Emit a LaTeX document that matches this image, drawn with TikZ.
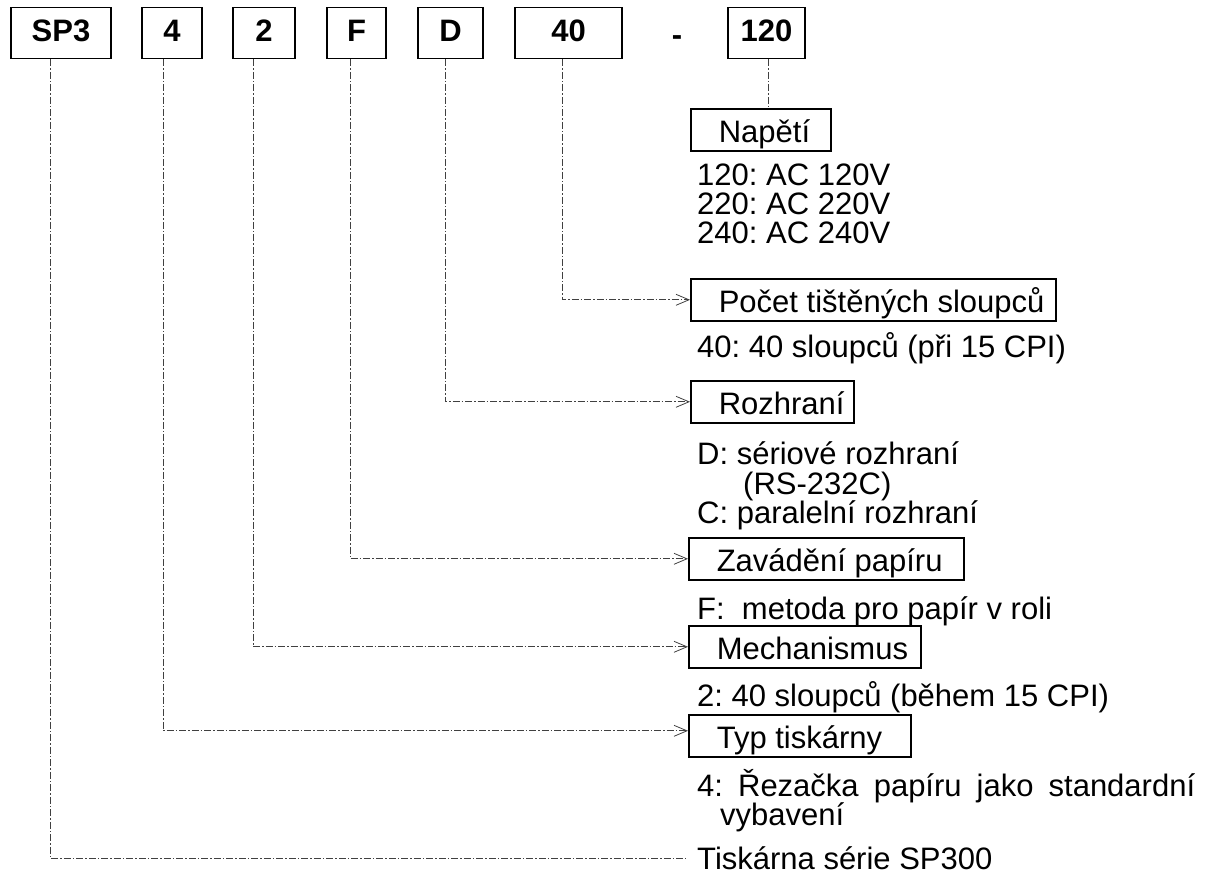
\documentclass[tikz,border=0pt]{standalone}
\usepackage{fontspec}
\setmainfont{Liberation Sans}
\usetikzlibrary{arrows.meta,calc}
\newcommand\lbtext[2]{\rule[-7pt]{0pt}{40pt}\makebox[#1][l]{\hspace*{28pt}#2}}
\newcommand\tbtext[1]{\rule[-8pt]{0pt}{33pt}#1}
\frenchspacing
\begin{document}
\begin{tikzpicture}[x=1pt,y=-1pt,
  topbox/.style={draw, line width=1.8pt, minimum height=51pt, inner sep=0pt, font=\fontsize{31}{36}\selectfont\bfseries},
  lbox/.style={draw, line width=1.6pt, minimum height=42pt, inner sep=0pt, anchor=north west, font=\fontsize{31}{36}\selectfont},
  desc/.style={anchor=base west, inner sep=0pt, font=\fontsize{31}{36}\selectfont},
  conn/.style={line width=0.8pt, black!75, dash pattern=on 7pt off 2pt on 1.5pt off 2pt},
  arr/.style={conn, -{Straight Barb[length=13pt,width=11pt,line width=0.8pt]}}
]
\useasboundingbox (0,0) rectangle (1207,882);

% top code boxes
\node[topbox, minimum width=100pt] (sp3) at (61,33) {\tbtext{SP3}};
\node[topbox, minimum width=60pt] (n4) at (172,33) {\tbtext{4}};
\node[topbox, minimum width=62pt] (n2) at (264,33) {\tbtext{2}};
\node[topbox, minimum width=59pt] (nF) at (356.5,33) {\tbtext{F}};
\node[topbox, minimum width=65pt] (nD) at (450.5,33) {\tbtext{D}};
\node[topbox, minimum width=107pt] (n40) at (568.5,33) {\tbtext{40}};
\node[anchor=base, inner sep=0pt, font=\fontsize{31}{36}\selectfont\bfseries] (dash) at (677,46) {-};
\node[topbox, minimum width=77pt] (n120) at (766.5,33) {\tbtext{120}};

% Napětí
\node[lbox] (nap) at (690,108) {\lbtext{140pt}{Napětí}};
\node[desc, align=left, font=\fontsize{31}{29}\selectfont] (v1) at (697,244) {120: AC 120V\\220: AC 220V\\240: AC 240V};

% Počet
\node[lbox] (poc) at (690,278) {\lbtext{365pt}{Počet tištěných sloupců}};
\node[desc] (c1) at (697,358) {40: 40 sloupců (při 15 CPI)};

% Rozhraní
\node[lbox] (roz) at (690,380) {\lbtext{163pt}{Rozhraní}};
\node[desc] (r1) at (697,464) {D: sériové rozhraní};
\node[desc] (r2) at (743,494) {(RS-232C)};
\node[desc] (r3) at (697,523) {C: paralelní rozhraní};

% Zavádění
\node[lbox] (zav) at (688,537) {\lbtext{275pt}{Zavádění papíru}};
\node[desc] (z1) at (697,619) {F:\ \ metoda pro papír v roli};

% Mechanismus
\node[lbox] (mech) at (688,625) {\lbtext{232pt}{Mechanismus}};
\node[desc] (m1) at (697,706) {2: 40 sloupců (během 15 CPI)};

% Typ tiskárny
\node[lbox] (typ) at (688,714) {\lbtext{222pt}{Typ tiskárny}};
\node[desc] (t1) at (697,796) {\makebox[498pt][s]{4: Řezačka papíru jako standardní}};
\node[desc] (t2) at (720,825) {vybavení};

% series
\node[desc] (ser) at (697,869) {Tiskárna série SP300};
\coordinate (serend) at (686,858);

% connectors
\draw[conn] ([xshift=1.5pt]n120.south) -- ([xshift=1.5pt]n120.south |- nap.north);
\draw[arr] ([xshift=-6.5pt]n40.south) |- (poc.west);
\draw[arr] ([xshift=-5.5pt]nD.south) |- (roz.west);
\draw[arr] ([xshift=-6.5pt]nF.south) |- (zav.west);
\draw[arr] ([xshift=-11pt]n2.south) |- (mech.west);
\draw[arr] ([xshift=-9pt]n4.south) |- ([yshift=5pt]typ.west);
\draw[conn] ([xshift=-11pt]sp3.south) |- (serend);
\end{tikzpicture}
\end{document}
